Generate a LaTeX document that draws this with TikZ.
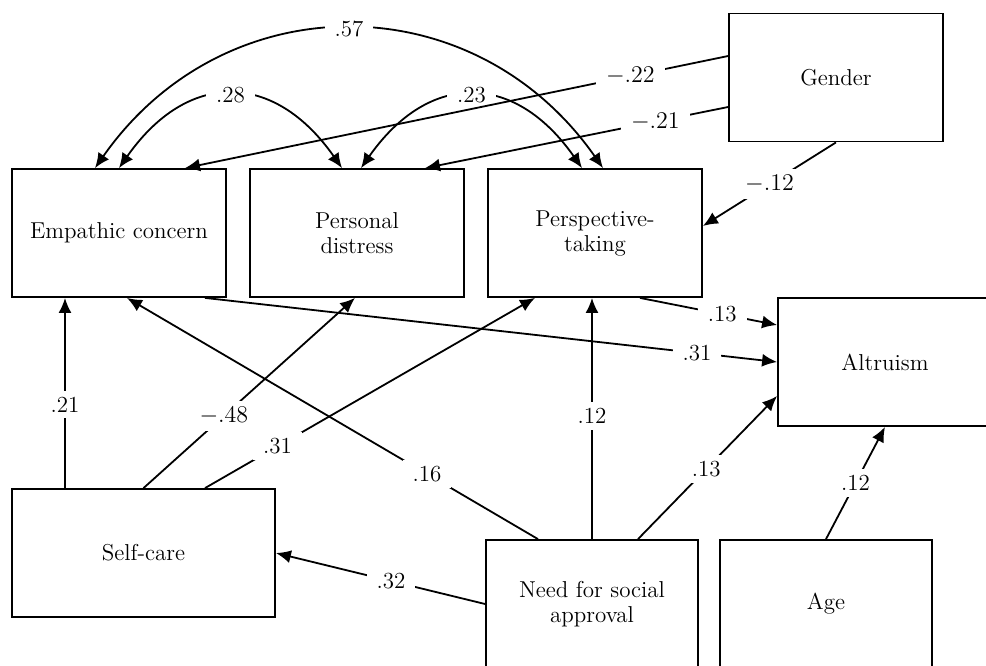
\documentclass[tikz,border=0pt]{standalone}
\usepackage{amsmath}
\usepackage{tikz}
\usetikzlibrary{arrows.meta}

\begin{document}
\begin{tikzpicture}[x=0.5pt, y=-0.5pt,
		var/.style={draw, line width=0.9pt, minimum width=107pt, minimum height=64pt, align=center, font=\fontsize{11.5}{12.5}\selectfont},
		eff/.style={line width=0.9pt, -{Latex[length=7.5pt, width=6.5pt]}},
		cov/.style={line width=0.9pt, {Latex[length=7.5pt, width=6.5pt]}-{Latex[length=7.5pt, width=6.5pt]}},
		coef/.style={fill=white, inner xsep=5pt, inner ysep=3pt, font=\fontsize{11.5}{12.5}\selectfont}]
				\useasboundingbox (0,0) rectangle (986,665);
				\node[var] (gen) at (836,77.5) {Gender};
				\node[var] (emp) at (119,233) {Empathic concern};
				\node[var] (pd) at (357,233) {Personal\\distress};
				\node[var] (pt) at (595,233) {Perspective-\\taking};
				\node[var] (alt) at (885,362) {Altruism};
				\node[var, minimum width=131.5pt] (sc) at (143.5,553) {Self-care};
				\node[var, minimum width=106pt] (nsa) at (592,604) {Need for social\\approval};
				\node[var, minimum width=106pt] (age) at (826,604) {Age};
				\draw[cov] ([xshift=4pt]pt.north) to[out=125, in=55, looseness=1.14] node[coef] {.57} ([xshift=-12pt]emp.north);
				\draw[cov] (emp.north) to[out=55, in=125, looseness=1.37] node[coef] {.28} ([xshift=-7.5pt]pd.north);
				\draw[cov] ([xshift=2pt]pd.north) to[out=55, in=125, looseness=1.37] node[coef] {.23} ([xshift=-6.5pt]pt.north);
				\draw[eff] ([yshift=10.75pt]gen.west) -- node[coef, pos=0.18] {$-.22$} ([xshift=33pt]emp.north);
				\draw[eff] ([yshift=-14.75pt]gen.west) -- node[coef, pos=0.24] {$-.21$} ([xshift=34pt]pd.north);
				\draw[eff] (gen.south) -- node[coef, pos=0.5] {$-.12$} ([yshift=3.5pt]pt.east);
				\draw[eff] ([xshift=43pt]emp.south) -- node[coef, pos=0.86] {.31} (alt.west);
				\draw[eff] ([xshift=22.5pt]pt.south) -- node[coef, pos=0.6] {.13} ([yshift=18.5pt]alt.west);
				\draw[eff] ([xshift=-39.25pt]sc.north) -- node[coef, pos=0.44] {.21} ([xshift=-27pt]emp.south);
				\draw[eff] (sc.north) -- node[coef, pos=0.38] {$-.48$} ([xshift=-1pt]pd.south);
				\draw[eff] ([xshift=30.75pt]sc.north) -- node[coef, pos=0.22] {.31} ([xshift=-30pt]pt.south);
				\draw[eff] ([xshift=-27pt]nsa.north) -- node[coef, pos=0.27] {.16} ([xshift=4pt]emp.south);
				\draw[eff] (nsa.north) -- node[coef, pos=0.51] {.12} ([xshift=-1.5pt]pt.south);
				\draw[eff] ([xshift=23pt]nsa.north) -- node[coef, pos=0.49] {.13} ([yshift=-17pt]alt.west);
				\draw[eff] (nsa.west) -- node[coef, pos=0.45] {.32} (sc.east);
				\draw[eff] (age.north) -- node[coef, pos=0.5] {.12} (alt.south);
			\end{tikzpicture}
\end{document}
